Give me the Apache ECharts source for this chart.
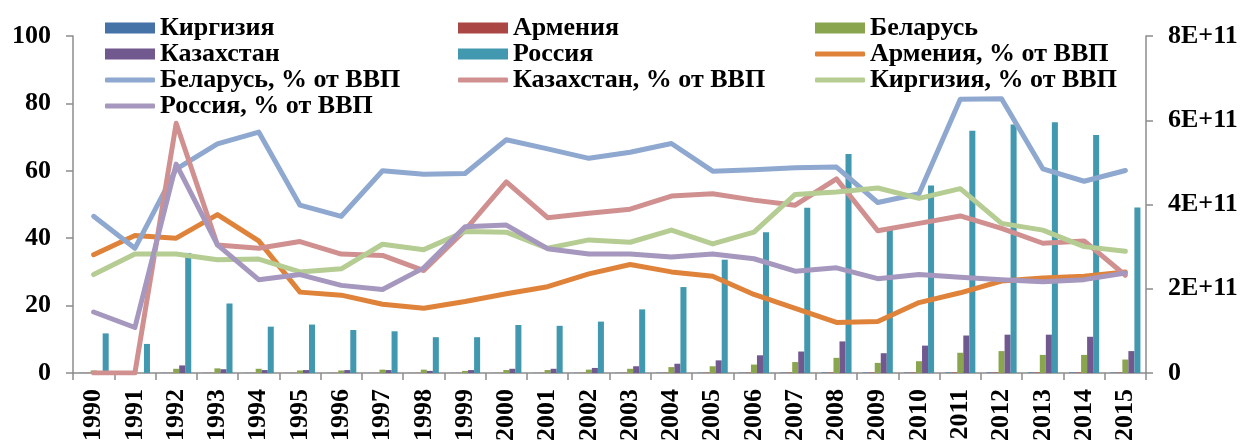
<!DOCTYPE html>
<html>
<head>
<meta charset="utf-8">
<script src="https://cdn.jsdelivr.net/npm/echarts@6/dist/echarts.min.js"></script>
<style>
  html, body { margin: 0; padding: 0; background: #fff; }
  #chart { width: 1245px; height: 444px; }
</style>
</head>
<body>
<div id="chart"></div>
<script>
// Years on the category axis
const years = ['1990','1991','1992','1993','1994','1995','1996','1997','1998','1999',
  '2000','2001','2002','2003','2004','2005','2006','2007','2008','2009',
  '2010','2011','2012','2013','2014','2015'];

// Absolute values (right axis), USD
const kyrgyzAbs = [0.3e9,0.3e9,0.5e9,0.4e9,0.3e9,0.3e9,0.3e9,0.3e9,0.3e9,0.3e9,
  0.3e9,0.3e9,0.4e9,0.5e9,0.6e9,0.6e9,0.7e9,0.9e9,1.1e9,1.0e9,
  1.0e9,1.2e9,1.3e9,1.4e9,1.3e9,1.0e9];
const armeniaAbs = [0.4e9,0.4e9,0.4e9,0.4e9,0.4e9,0.4e9,0.4e9,0.4e9,0.4e9,0.4e9,
  0.4e9,0.4e9,0.5e9,0.6e9,0.7e9,0.8e9,0.9e9,1.0e9,1.2e9,1.1e9,
  1.1e9,1.3e9,1.3e9,1.3e9,1.3e9,1.1e9];
const belarusAbs = [6e9,0,10e9,11e9,10e9,6e9,6e9,8e9,8e9,5e9,
  7e9,7e9,8e9,10e9,14e9,16e9,20e9,26e9,36e9,24e9,
  28e9,48e9,52e9,43e9,43e9,32e9];
const kazakhstanAbs = [0,0,18e9,9e9,7e9,7e9,7e9,7e9,5e9,7e9,
  10e9,10e9,12e9,16e9,22e9,30e9,42e9,51e9,75e9,47e9,
  65e9,89e9,91e9,91e9,86e9,52e9];
const russiaAbs = [94e9,69e9,285e9,165e9,110e9,115e9,102e9,99e9,85e9,85e9,
  114e9,112e9,122e9,151e9,204e9,269e9,334e9,392e9,520e9,340e9,
  445e9,575e9,590e9,595e9,565e9,393e9];

// Shares of GDP, % (left axis)
const armeniaPct = [35.1,40.8,40.0,47.0,39.2,24.0,23.1,20.4,19.2,21.2,
  23.5,25.6,29.4,32.2,30.0,28.7,23.3,19.2,15.0,15.3,
  20.9,23.8,27.3,28.2,28.7,30.0];
const belarusPct = [46.5,37.0,60.5,68.0,71.5,49.8,46.5,60.0,59.0,59.2,
  69.2,66.5,63.7,65.5,68.1,59.9,60.3,60.9,61.1,50.6,
  53.2,81.2,81.4,60.6,56.9,60.1];
const kazakhstanPct = [0,0,74.1,38.0,37.0,39.0,35.3,34.9,30.4,42.4,
  56.7,46.1,47.4,48.6,52.5,53.2,51.3,49.8,57.6,42.2,
  44.4,46.6,42.9,38.5,39.2,29.0];
const kyrgyzPct = [29.2,35.3,35.3,33.6,33.8,30.0,30.9,38.2,36.6,42.0,
  41.8,37.0,39.5,38.8,42.4,38.3,41.8,53.0,53.7,54.9,
  51.8,54.7,44.4,42.4,37.5,36.1];
const russiaPct = [18.1,13.5,62.0,38.0,27.7,29.2,26.0,24.8,31.2,43.4,
  43.9,36.9,35.3,35.3,34.4,35.3,33.9,30.2,31.2,28.0,
  29.2,28.4,27.7,27.1,27.7,29.7];

// Axis tick settings
const leftTicks = { min: 0, max: 100, interval: 20 };
const rightTicks = { min: 0, max: 8e11, interval: 2e11 };

const FONT = 'Liberation Serif, Times New Roman, serif';
const axisGray = '#8c8c8c';
const labelStyle = { fontFamily: FONT, fontWeight: 'bold', fontSize: 26, color: '#000' };

function barSeries(name, data, color) {
  return {
    name, type: 'bar', yAxisIndex: 1, data,
    barGap: '0%', barCategoryGap: '27%',
    itemStyle: { color },
    emphasis: { disabled: true }
  };
}
function lineSeries(name, data, color) {
  return {
    name, type: 'line', yAxisIndex: 0, data,
    symbol: 'none', showSymbol: false,
    lineStyle: { color, width: 5, cap: 'round', join: 'round' },
    itemStyle: { color },
    emphasis: { disabled: true }
  };
}

// Legend laid out as a 3-column grid; each block is a vertical legend
const ROW0 = 10, ROW_H = 26;
const COLS = [100, 453, 810];
function legendBlock(col, row, names, isLine) {
  return {
    orient: 'vertical', left: COLS[col], top: ROW0 + ROW_H * row,
    itemWidth: 50, itemHeight: isLine ? 5 : 11, itemGap: 0,
    icon: isLine ? 'roundRect' : 'rect',
    selectedMode: false,
    textStyle: Object.assign({}, labelStyle, { lineHeight: ROW_H }),
    data: names
  };
}

const chart = echarts.init(document.getElementById('chart'), null, { renderer: 'canvas' });
chart.setOption({
  animation: false,
  backgroundColor: '#fff',
  grid: { left: 73, right: 99, top: 36, bottom: 68 },
  legend: [
    legendBlock(0, 0, ['Киргизия', 'Казахстан'], false),
    legendBlock(0, 2, ['Беларусь, % от ВВП', 'Россия, % от ВВП'], true),
    legendBlock(1, 0, ['Армения', 'Россия'], false),
    legendBlock(1, 2, ['Казахстан, % от ВВП'], true),
    legendBlock(2, 0, ['Беларусь'], false),
    legendBlock(2, 1, ['Армения, % от ВВП', 'Киргизия, % от ВВП'], true)
  ],
  xAxis: {
    type: 'category', data: years, boundaryGap: true,
    axisLine: { lineStyle: { color: axisGray, width: 1.5 } },
    axisTick: { show: true, length: 7, alignWithLabel: false, lineStyle: { color: axisGray, width: 1.5 } },
    axisLabel: Object.assign({}, labelStyle, { rotate: 90, margin: 16, interval: 0 }),
    splitLine: { show: false }
  },
  yAxis: [
    {
      type: 'value', position: 'left',
      min: leftTicks.min, max: leftTicks.max, interval: leftTicks.interval,
      axisLine: { show: true, lineStyle: { color: axisGray, width: 1.5 } },
      axisTick: { show: true, length: 7, lineStyle: { color: axisGray, width: 1.5 } },
      axisLabel: Object.assign({}, labelStyle, { margin: 22 }),
      splitLine: { show: false }
    },
    {
      type: 'value', position: 'right',
      min: rightTicks.min, max: rightTicks.max, interval: rightTicks.interval,
      axisLine: { show: true, lineStyle: { color: axisGray, width: 1.5 } },
      axisTick: { show: true, length: 7, lineStyle: { color: axisGray, width: 1.5 } },
      axisLabel: Object.assign({}, labelStyle, {
        margin: 22,
        formatter: v => v === 0 ? '0' : (v / 1e11) + 'E+11'
      }),
      splitLine: { show: false }
    }
  ],
  series: [
    barSeries('Киргизия', kyrgyzAbs, '#4572A7'),
    barSeries('Армения', armeniaAbs, '#AA4643'),
    barSeries('Беларусь', belarusAbs, '#89A54E'),
    barSeries('Казахстан', kazakhstanAbs, '#71588F'),
    barSeries('Россия', russiaAbs, '#4198AF'),
    lineSeries('Армения, % от ВВП', armeniaPct, '#E0833A'),
    lineSeries('Беларусь, % от ВВП', belarusPct, '#8EA8CF'),
    lineSeries('Казахстан, % от ВВП', kazakhstanPct, '#D09090'),
    lineSeries('Киргизия, % от ВВП', kyrgyzPct, '#B5CC92'),
    lineSeries('Россия, % от ВВП', russiaPct, '#A597BE')
  ]
});
</script>
</body>
</html>
